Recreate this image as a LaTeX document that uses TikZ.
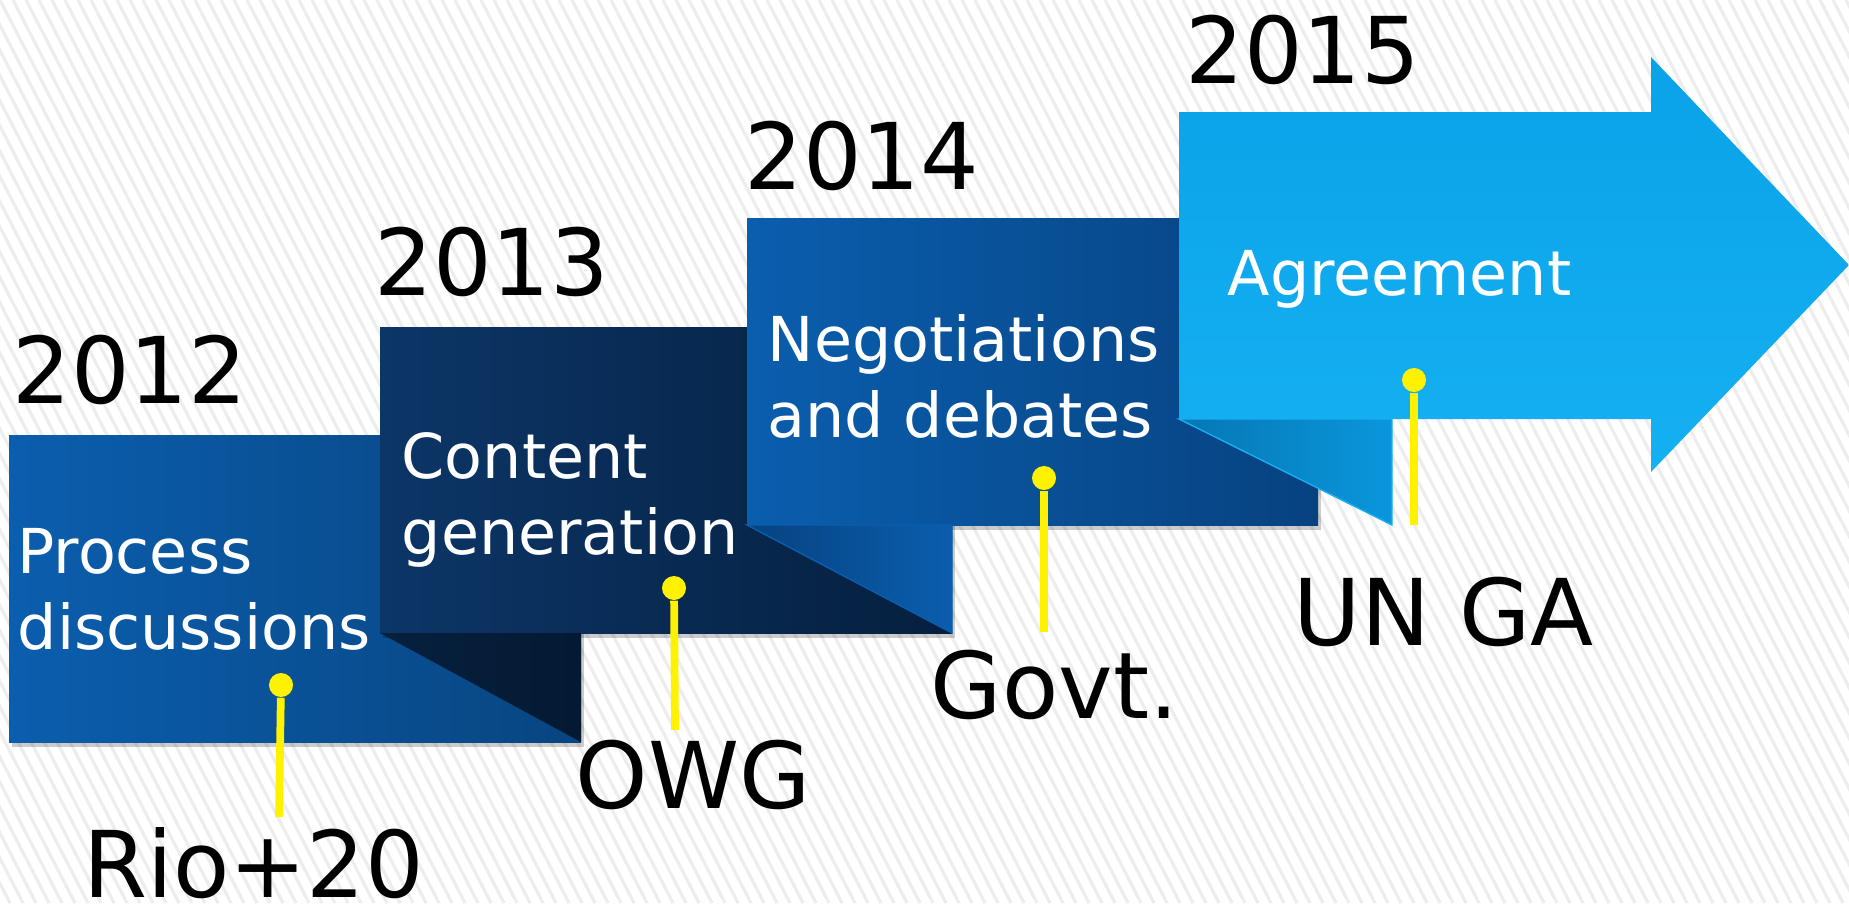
\documentclass[tikz,border=0pt]{standalone}
\usepackage{fontspec}
\setmainfont{DejaVu Sans}
\definecolor{pinyellow}{HTML}{FFF200}
\definecolor{boxAl}{HTML}{0B5EAE}
\definecolor{boxAr}{HTML}{084580}
\definecolor{boxBl}{HTML}{0C3668}
\definecolor{boxBr}{HTML}{051F3E}
\definecolor{boxCl}{HTML}{0A5EAE}
\definecolor{boxCr}{HTML}{074280}
\definecolor{arrowt}{HTML}{0AA2E8}
\definecolor{arrowb}{HTML}{15B0F2}
\definecolor{foldAl}{HTML}{06203E}
\definecolor{foldAr}{HTML}{041A33}
\definecolor{foldCl}{HTML}{0677B4}
\definecolor{foldCr}{HTML}{0A96DC}
\begin{document}
\begin{tikzpicture}[x=0.01cm,y=-0.01cm,
  year/.style={anchor=base west,inner sep=0,font=\fontsize{26.2}{31}\selectfont},
  stage/.style={anchor=base west,inner sep=0,align=left,text=white,font=\fontsize{17.6}{21.6}\selectfont},
  pinhead/.style={circle,fill=pinyellow,inner sep=0,minimum size=0.24cm},
  pinline/.style={pinyellow,line width=2.2pt},
  stripe/.style={black!7,line width=0.9pt},
  shadow/.style={black,opacity=.2}]
\useasboundingbox (0,0) rectangle (1849,903);
% background
\fill[white] (0,0) rectangle (1849,903);
\begin{scope}
\clip (0,0) rectangle (1849,903);
\foreach \s in {-468,-455,...,1849} \draw[stripe] (\s,0)--++(465,903);
\end{scope}
% 2012
\fill[shadow] (12,440) rectangle (584,747);
\shade[left color=boxAl,right color=boxAr] (9,435) rectangle (581,742);
% 2013
\fill[shadow] (383,332) rectangle (955,638);
\shade[left color=boxBl,right color=boxBr] (380,327) rectangle (952,633);
\shade[left color=foldAl,right color=foldAr] (380,633)--(581,742)--(581,633)--cycle;
% 2014
\fill[shadow] (750,223) rectangle (1321,530);
\shade[left color=boxCl,right color=boxCr] (747,218) rectangle (1318,525);
\shade[left color=boxCr,right color=boxCl,draw=boxCl] (747,525)--(952,633)--(952,525)--cycle;
% 2015
\shade[top color=arrowt,bottom color=arrowb] (1179,112)--(1651,112)--(1651,57)--(1849,265)
  --(1651,472)--(1651,419)--(1179,419)--cycle;
\shade[left color=foldCl,right color=foldCr,draw=arrowb] (1179,419)--(1392,525)--(1392,419)--cycle;
% years
\node (y12) at (12,403)[year]{2012};
\node (y13) at (374,295)[year]{2013};
\node (y14) at (744,189)[year]{2014};
\node (y15) at (1185,83)[year]{2015};
% stages (base = last line)
\node (s12) at (17,649)[stage]{Process\\discussions};
\node (s13) at (401,554)[stage]{Content\\generation};
\node (s14) at (767,437)[stage]{Negotiations\\and debates};
\node (s15) at (1227,295)[stage]{Agreement};
% pins
\node (p12) at (281,685)[pinhead]{};
\node (p13) at (674,588)[pinhead]{};
\node (p14) at (1044,478)[pinhead]{};
\node (p15) at (1414,380)[pinhead]{};
\coordinate (f12) at (279,817);
\coordinate (f13) at (675,730);
\coordinate (f14) at (1044,632);
\coordinate (f15) at (1414,525);
\draw[pinline] (p12)--(f12);
\draw[pinline] (p13)--(f13);
\draw[pinline] (p14)--(f14);
\draw[pinline] (p15)--(f15);
% who
\node (w12) at (83,897)[year]{Rio+20};
\node (w13) at (575,808)[year]{OWG};
\node (w14) at (930,718)[year]{Govt.};
\node (w15) at (1293,645)[year]{UN GA};
\end{tikzpicture}
\end{document}
